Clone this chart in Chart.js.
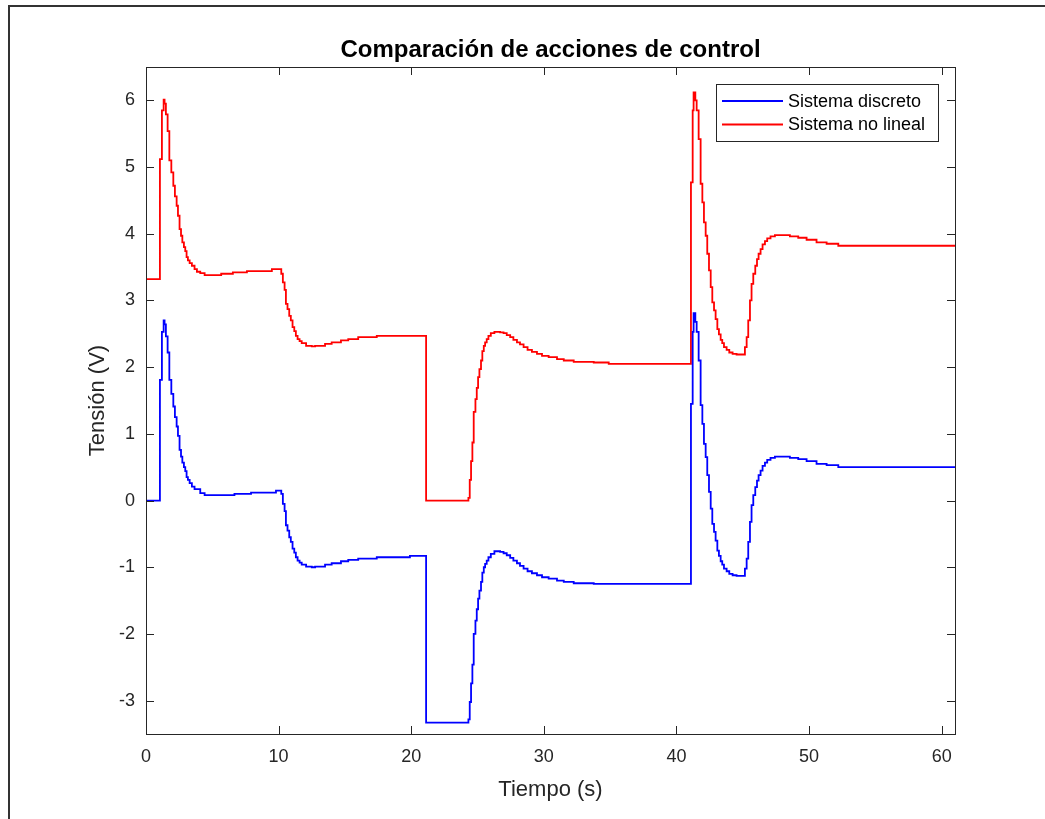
<!DOCTYPE html>
<html lang="es">
<head>
<meta charset="utf-8">
<title>Comparación de acciones de control</title>
<script src="https://cdn.jsdelivr.net/npm/chart.js@4.4.1/dist/chart.umd.min.js"></script>
<style>
  html, body { margin: 0; padding: 0; background: #fff; overflow: hidden; }
  #wrap { position: relative; width: 1045px; height: 819px; }
  #marco { position: absolute; left: 8px; top: 5px; width: 1100px; height: 900px; border: 2px solid #333; pointer-events: none; }
</style>
</head>
<body>
<div id="wrap">
  <canvas id="grafico"></canvas>
  <div id="marco"></div>
</div>
<script>
// datos (tiempo en s, tension en V; cada valor vale desde su instante)
const tiempoDiscreto = [0, 1.05, 1.20, 1.33, 1.40, 1.50, 1.63, 1.76, 1.91, 2.06, 2.18, 2.31, 2.41, 2.53, 2.64, 2.74, 2.86, 2.96, 3.06, 3.16, 3.29, 3.46, 3.66, 4.09, 4.42, 6.67, 7.92, 9.80,
  10.20, 10.32, 10.45, 10.55, 10.67, 10.80, 10.92, 11.05, 11.18, 11.30, 11.43, 11.58, 11.74, 12.07, 12.50, 12.75, 13.50, 14.00, 14.70, 15.25, 16.00, 17.40, 19.90,
  21.12, 24.31, 24.41, 24.51, 24.61, 24.71, 24.84, 24.94, 25.04, 25.14, 25.26, 25.36, 25.47, 25.57, 25.69, 25.82, 26.00, 26.27, 26.70, 26.96, 27.20, 27.46, 27.70, 27.97, 28.20, 28.47, 28.77, 29.10, 29.48, 29.86, 30.36, 30.99, 31.50, 32.25, 33.76,
  41.09, 41.22, 41.29, 41.42, 41.52, 41.67, 41.82, 41.95, 42.07, 42.20, 42.32, 42.45, 42.58, 42.70, 42.83, 42.95, 43.08, 43.20, 43.33, 43.45, 43.58, 43.78, 43.98, 44.23, 44.53,
  45.16, 45.29, 45.41, 45.54, 45.66, 45.79, 45.94, 46.07, 46.19, 46.34, 46.49, 46.67, 46.84, 47.09, 47.42, 47.92, 48.55, 49.18, 49.81, 50.56, 51.32, 52.20, 61];
const tensionDiscreto = [0, 1.81, 2.53, 2.70, 2.64, 2.46, 2.22, 1.81, 1.60, 1.41, 1.25, 1.11, 0.97, 0.76, 0.66, 0.57, 0.50, 0.44, 0.35, 0.31, 0.26, 0.21, 0.17, 0.11, 0.08, 0.10, 0.12, 0.15,
  0.10, -0.05, -0.16, -0.37, -0.45, -0.55, -0.62, -0.72, -0.78, -0.85, -0.90, -0.93, -0.96, -0.99, -1.00, -0.99, -0.96, -0.94, -0.91, -0.89, -0.87, -0.85, -0.83,
  -3.33, -3.28, -3.02, -2.74, -2.46, -2.00, -1.80, -1.63, -1.47, -1.35, -1.22, -1.08, -1.00, -0.95, -0.90, -0.85, -0.80, -0.76, -0.77, -0.79, -0.82, -0.86, -0.90, -0.94, -0.98, -1.02, -1.06, -1.09, -1.12, -1.15, -1.17, -1.20, -1.22, -1.24, -1.25,
  1.45, 2.53, 2.81, 2.68, 2.53, 2.10, 1.43, 1.15, 0.85, 0.65, 0.38, 0.13, -0.12, -0.35, -0.47, -0.60, -0.75, -0.83, -0.91, -0.96, -1.02, -1.06, -1.10, -1.12, -1.13,
  -1.02, -0.87, -0.62, -0.32, -0.07, 0.08, 0.20, 0.30, 0.38, 0.45, 0.52, 0.57, 0.61, 0.64, 0.66, 0.66, 0.64, 0.62, 0.59, 0.55, 0.53, 0.50, 0.50];

const tiempoNoLineal = [0, 1.05, 1.20, 1.33, 1.40, 1.50, 1.63, 1.76, 1.91, 2.06, 2.18, 2.31, 2.41, 2.53, 2.64, 2.74, 2.86, 2.96, 3.06, 3.16, 3.29, 3.46, 3.66, 3.84, 4.09, 4.42, 5.67, 6.55, 7.61, 9.49,
  10.20, 10.32, 10.45, 10.55, 10.67, 10.80, 10.92, 11.05, 11.18, 11.30, 11.43, 11.58, 11.74, 12.07, 12.50, 12.75, 13.50, 14.00, 14.70, 15.25, 16.00, 17.40,
  21.12, 24.31, 24.41, 24.51, 24.61, 24.71, 24.84, 24.94, 25.04, 25.14, 25.26, 25.36, 25.47, 25.57, 25.69, 25.82, 26.00, 26.27, 26.70, 26.96, 27.20, 27.46, 27.70, 27.97, 28.20, 28.47, 28.77, 29.10, 29.48, 29.86, 30.36, 30.99, 31.50, 32.25, 33.76, 34.89,
  41.09, 41.22, 41.29, 41.42, 41.52, 41.67, 41.82, 41.95, 42.07, 42.20, 42.32, 42.45, 42.58, 42.70, 42.83, 42.95, 43.08, 43.20, 43.33, 43.45, 43.58, 43.78, 43.98, 44.23, 44.53,
  45.16, 45.29, 45.41, 45.54, 45.66, 45.79, 45.94, 46.07, 46.19, 46.34, 46.49, 46.67, 46.84, 47.09, 47.42, 47.92, 48.55, 49.18, 49.81, 50.56, 51.32, 52.20, 61];
const tensionNoLineal = [3.32, 5.12, 5.85, 6.01, 5.95, 5.79, 5.54, 5.10, 4.92, 4.72, 4.56, 4.42, 4.27, 4.07, 3.97, 3.87, 3.80, 3.74, 3.65, 3.60, 3.56, 3.52, 3.47, 3.43, 3.41, 3.38, 3.40, 3.42, 3.44, 3.47,
  3.40, 3.27, 3.16, 2.95, 2.87, 2.77, 2.70, 2.60, 2.54, 2.47, 2.42, 2.39, 2.36, 2.32, 2.31, 2.32, 2.35, 2.37, 2.40, 2.42, 2.45, 2.47,
  0.00, 0.04, 0.31, 0.59, 0.87, 1.33, 1.52, 1.69, 1.85, 1.97, 2.10, 2.24, 2.32, 2.37, 2.42, 2.47, 2.51, 2.53, 2.52, 2.51, 2.48, 2.45, 2.41, 2.37, 2.34, 2.30, 2.26, 2.23, 2.20, 2.17, 2.15, 2.12, 2.10, 2.08, 2.07, 2.05,
  4.77, 5.85, 6.12, 6.00, 5.85, 5.42, 4.75, 4.47, 4.17, 3.97, 3.70, 3.45, 3.20, 2.97, 2.85, 2.72, 2.57, 2.49, 2.41, 2.36, 2.30, 2.26, 2.22, 2.20, 2.19,
  2.30, 2.45, 2.70, 3.00, 3.25, 3.40, 3.52, 3.62, 3.70, 3.77, 3.84, 3.89, 3.93, 3.96, 3.98, 3.98, 3.96, 3.94, 3.91, 3.87, 3.85, 3.82, 3.82];

const nombresSeries = ['Sistema discreto', 'Sistema no lineal'];
const coloresSeries = ['#0000ff', '#ff0000'];
const ticksX = [0, 10, 20, 30, 40, 50, 60];
const ticksY = [-3, -2, -1, 0, 1, 2, 3, 4, 5, 6];

const FUENTE = '"Liberation Sans", Arial, sans-serif';
const GRIS = '#262626';

function puntos(ts, vs) { return ts.map((t, i) => ({ x: t, y: vs[i] })); }

// caja, ticks hacia adentro, titulo, etiquetas y leyenda al estilo MATLAB
const estiloMatlab = {
  id: 'estiloMatlab',
  afterDraw(chart) {
    const ctx = chart.ctx;
    const a = chart.chartArea;
    const sx = chart.scales.x, sy = chart.scales.y;
    const largo = 8;
    ctx.save();
    ctx.strokeStyle = GRIS;
    ctx.lineWidth = 1;
    ctx.strokeRect(Math.round(a.left) + 0.5, Math.round(a.top) + 0.5, Math.round(a.right - a.left), Math.round(a.bottom - a.top));
    ctx.beginPath();
    ticksX.forEach(v => {
      const px = Math.round(sx.getPixelForValue(v)) + 0.5;
      ctx.moveTo(px, a.bottom); ctx.lineTo(px, a.bottom - largo);
      ctx.moveTo(px, a.top); ctx.lineTo(px, a.top + largo);
    });
    ticksY.forEach(v => {
      const py = Math.round(sy.getPixelForValue(v)) + 0.5;
      ctx.moveTo(a.left, py); ctx.lineTo(a.left + largo, py);
      ctx.moveTo(a.right, py); ctx.lineTo(a.right - largo, py);
    });
    ctx.stroke();

    // titulo
    ctx.fillStyle = '#000';
    ctx.font = 'bold 24px ' + FUENTE;
    ctx.textAlign = 'center';
    ctx.textBaseline = 'alphabetic';
    ctx.fillText('Comparación de acciones de control', (a.left + a.right) / 2, 57);

    // etiquetas de ejes
    ctx.fillStyle = GRIS;
    ctx.font = '22px ' + FUENTE;
    ctx.textBaseline = 'middle';
    ctx.fillText('Tiempo (s)', (a.left + a.right) / 2, 790);
    ctx.save();
    ctx.translate(98, (a.top + a.bottom) / 2);
    ctx.rotate(-Math.PI / 2);
    ctx.fillText('Tensión (V)', 0, 0);
    ctx.restore();

    // leyenda
    const lx = 716, ly = 84, lw = 222, lh = 57;
    ctx.fillStyle = '#fff';
    ctx.fillRect(lx, ly, lw, lh);
    ctx.strokeStyle = GRIS;
    ctx.strokeRect(lx + 0.5, ly + 0.5, lw, lh);
    ctx.font = '18px ' + FUENTE;
    ctx.textAlign = 'left';
    nombresSeries.forEach((n, i) => {
      const y = ly + 17 + i * 23.5;
      ctx.strokeStyle = coloresSeries[i];
      ctx.lineWidth = 1.8;
      ctx.beginPath();
      ctx.moveTo(722, y); ctx.lineTo(783, y);
      ctx.stroke();
      ctx.fillStyle = '#000';
      ctx.fillText(n, 788, y + 1);
    });
    ctx.restore();
  }
};

const chart = new Chart(document.getElementById('grafico'), {
  type: 'line',
  data: {
    datasets: [
      { label: nombresSeries[0], data: puntos(tiempoDiscreto, tensionDiscreto), borderColor: coloresSeries[0], borderWidth: 1.8, pointRadius: 0, stepped: 'before', fill: false },
      { label: nombresSeries[1], data: puntos(tiempoNoLineal, tensionNoLineal), borderColor: coloresSeries[1], borderWidth: 1.8, pointRadius: 0, stepped: 'before', fill: false }
    ]
  },
  options: {
    responsive: true,
    maintainAspectRatio: false,
    animation: false,
    events: [],
    layout: { padding: { left: 0, right: 90, top: 67, bottom: 0 } },
    plugins: { legend: { display: false }, tooltip: { enabled: false }, title: { display: false } },
    scales: {
      x: {
        type: 'linear', min: 0, max: 61,
        grid: { display: false, drawTicks: false },
        border: { display: false },
        afterBuildTicks: s => { s.ticks = ticksX.map(v => ({ value: v })); },
        afterFit: s => { s.height = 85; },
        ticks: { color: GRIS, font: { family: FUENTE, size: 18 }, padding: 12, maxRotation: 0, callback: v => String(v) }
      },
      y: {
        type: 'linear', min: -3.5, max: 6.5,
        grid: { display: false, drawTicks: false },
        border: { display: false },
        afterBuildTicks: s => { s.ticks = ticksY.map(v => ({ value: v })); },
        afterFit: s => { s.width = 146; },
        ticks: { color: GRIS, font: { family: FUENTE, size: 18 }, padding: 11, callback: v => String(v) }
      }
    }
  },
  plugins: [estiloMatlab]
});
</script>
</body>
</html>
